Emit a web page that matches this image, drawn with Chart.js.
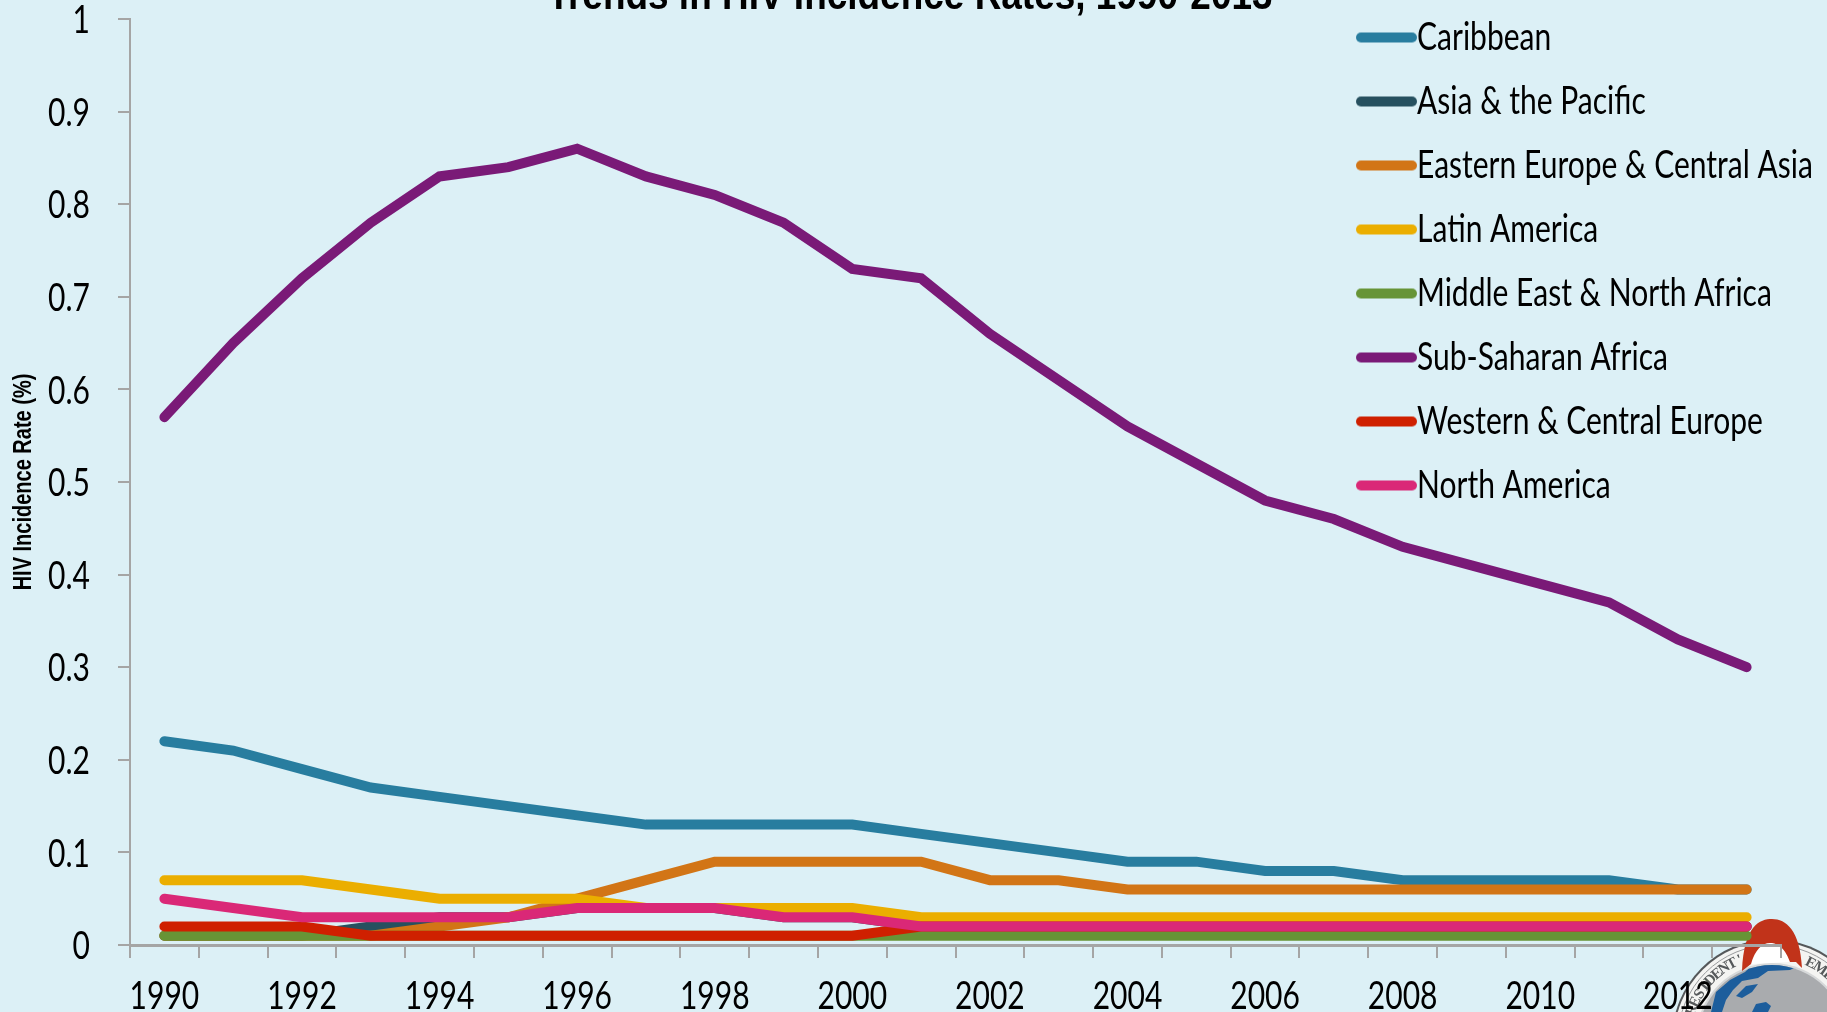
<!DOCTYPE html>
<html><head><meta charset="utf-8">
<style>html,body{margin:0;padding:0;background:#dcf0f6;overflow:hidden}canvas{display:block}</style>
<script src="https://cdn.jsdelivr.net/npm/chart.js@4"></script></head>
<body><canvas id="c" width="1827" height="1012"></canvas>
<script>
const FONT = 'Lato,"Open Sans",sans-serif';
const BOLD = '"Liberation Sans",Arial,sans-serif';
const chartTitle = 'Trends in HIV Incidence Rates, 1990-2013';
const yAxisTitle = 'HIV Incidence Rate (%)';
const years = ['1990','1991','1992','1993','1994','1995','1996','1997','1998','1999','2000','2001','2002','2003','2004','2005','2006','2007','2008','2009','2010','2011','2012','2013'];
const caribbean = [.22,.21,.19,.17,.16,.15,.14,.13,.13,.13,.13,.12,.11,.10,.09,.09,.08,.08,.07,.07,.07,.07,.06,.06];
const asiaPacific = [.01,.01,.01,.02,.03,.03,.04,.04,.04,.03,.03,.02,.02,.02,.02,.02,.02,.02,.02,.02,.02,.02,.02,.02];
const easternEurope = [.01,.01,.01,.01,.02,.03,.05,.07,.09,.09,.09,.09,.07,.07,.06,.06,.06,.06,.06,.06,.06,.06,.06,.06];
const latinAmerica = [.07,.07,.07,.06,.05,.05,.05,.04,.04,.04,.04,.03,.03,.03,.03,.03,.03,.03,.03,.03,.03,.03,.03,.03];
const middleEast = [.01,.01,.01,.01,.01,.01,.01,.01,.01,.01,.01,.01,.01,.01,.01,.01,.01,.01,.01,.01,.01,.01,.01,.01];
const subSaharan = [.57,.65,.72,.78,.83,.84,.86,.83,.81,.78,.73,.72,.66,.61,.56,.52,.48,.46,.43,.41,.39,.37,.33,.30];
const westernEurope = [.02,.02,.02,.01,.01,.01,.01,.01,.01,.01,.01,.02,.02,.02,.02,.02,.02,.02,.02,.02,.02,.02,.02,.02];
const northAmerica = [.05,.04,.03,.03,.03,.03,.04,.04,.04,.03,.03,.02,.02,.02,.02,.02,.02,.02,.02,.02,.02,.02,.02,.02];
const seriesNames = ['Caribbean','Asia & the Pacific','Eastern Europe & Central Asia','Latin America','Middle East & North Africa','Sub-Saharan Africa','Western & Central Europe','North America'];
const seriesValues = [caribbean,asiaPacific,easternEurope,latinAmerica,middleEast,subSaharan,westernEurope,northAmerica];
const seriesColors = ['#287d9f','#26505f','#d27516','#ebae00','#679436','#7a1a77','#cf2000','#da2877'];

const canvas=document.getElementById('c');
const ctx=canvas.getContext('2d');
const rawFill=ctx.fillText.bind(ctx);
// the reference face is condensed and none is installed: squeeze the text about its anchor
ctx.fillText=function(t,x,y){
  const sx=/bold/.test(ctx.font)?(parseFloat(ctx.font.replace(/^\D*/,''))>30?0.88:0.80):0.79;
  ctx.save();ctx.translate(x,y);ctx.scale(sx,1);rawFill(t,0,0);ctx.restore();
};
function marker(col){
  const m=document.createElement('canvas');m.width=61;m.height=14;
  const g=m.getContext('2d');g.strokeStyle=col;g.lineWidth=10;g.lineCap='round';
  g.beginPath();g.moveTo(5,7);g.lineTo(56,7);g.stroke();return m;
}
function seal(g){
  const cx=1772,cy=1039;
  const poly=(pts)=>{g.beginPath();pts.forEach((p,i)=>i?g.lineTo(p[0],p[1]):g.moveTo(p[0],p[1]));g.closePath();g.fill();};
  g.save();
  g.beginPath();g.arc(cx,cy,100,0,Math.PI*2);g.fillStyle='#55585a';g.fill();
  g.beginPath();g.arc(cx,cy,98,0,Math.PI*2);g.fillStyle='#f4f4f2';g.fill();
  g.beginPath();g.arc(cx,cy,94,0,Math.PI*2);g.strokeStyle='#9a9c9e';g.lineWidth=1;g.stroke();
  g.beginPath();g.arc(cx,cy,76,0,Math.PI*2);g.fillStyle='#d6d8d9';g.fill();
  g.beginPath();g.arc(cx,cy,74,0,Math.PI*2);g.fillStyle='#a9abae';g.fill();
  // globe land
  g.save();g.beginPath();g.arc(cx,cy,74,0,Math.PI*2);g.clip();
  g.fillStyle='#1c5d9c';
  poly([[1711,1012],[1716,992],[1730,980],[1745,972],[1752,965],[1800,965],[1790,970],[1768,971],[1758,978],[1742,981],[1733,990],[1726,1000],[1722,1012]]);
  poly([[1736,996],[1746,986],[1758,984],[1752,992],[1742,998]]);
  poly([[1752,1012],[1756,1004],[1766,1002],[1771,1006],[1768,1012]]);
  g.restore();
  // arc lettering
  g.fillStyle='#55585a';g.textAlign='center';g.textBaseline='middle';g.font='bold 15px "Liberation Serif",serif';
  const put=(s,start,step)=>{[...s].forEach((c,i)=>{const a=start+i*step;g.save();g.translate(cx+85*Math.sin(a),cy-85*Math.cos(a));g.rotate(a);rawFill(c,0,0);g.restore();});};
  put("PRESIDENT'S",-1.33,0.105);put('EMERGENCY',0.47,0.13);
  // arch: white inside, red band
  g.fillStyle='#fff';
  g.beginPath();g.moveTo(1751,964);g.bezierCurveTo(1755,950,1762,943,1770,943);g.bezierCurveTo(1775,943,1784,945,1790,962);g.closePath();g.fill();
  g.fillStyle='#c1331a';
  g.beginPath();g.moveTo(1742,971);g.bezierCurveTo(1744,925,1760,919,1772,919);g.bezierCurveTo(1786,919,1800,930,1802,968);g.lineTo(1796,962);g.lineTo(1790,962);g.bezierCurveTo(1784,945,1775,943,1770,943);g.bezierCurveTo(1762,943,1755,950,1751,964);g.closePath();g.fill();
  g.restore();
}
const placeBoxes={id:'placeBoxes',
  afterLayout(ch){
    const l=ch.legend;l.left=1349;l.right=1827;l.top=-7.5;l.bottom=1000;
    const t=ch.titleBlock;t.left=0;t.right=1820;
  },
  beforeDraw(ch){const g=ch.ctx;g.save();g.fillStyle='#dcf0f6';g.fillRect(0,0,ch.width,ch.height);g.restore();seal(g);}
};
const n=seriesNames.length;
new Chart(canvas,{type:'line',
  data:{labels:years,datasets:seriesNames.map((name,i)=>({label:name,data:seriesValues[i],order:n-i,borderColor:seriesColors[i],backgroundColor:seriesColors[i],borderWidth:10,borderCapStyle:'round',borderJoinStyle:'miter',pointRadius:0,tension:0,pointStyle:marker(seriesColors[i])}))},
  plugins:[placeBoxes],
  options:{responsive:false,animation:false,
    layout:{padding:{left:0,right:46,top:19,bottom:0}},
    plugins:{
      title:{display:true,text:chartTitle,color:'#000',font:{family:BOLD,size:42,weight:'bold',lineHeight:1},padding:{top:-43,bottom:1}},
      tooltip:{enabled:false},
      legend:{display:true,position:'chartArea',align:'start',labels:{usePointStyle:true,boxWidth:23,boxHeight:14,color:'#000',font:{family:FONT,size:38},padding:26,sort:(a,b)=>a.datasetIndex-b.datasetIndex}}
    },
    scales:{
      x:{offset:true,afterFit(s){s.height=67;s.paddingLeft=0;s.paddingRight=0;},
        grid:{drawOnChartArea:false,drawTicks:true,tickLength:13,color:'#a5a5a5',lineWidth:2,offset:true},border:{color:'#a5a5a5',width:3},
        ticks:{autoSkip:false,maxRotation:0,minRotation:0,color:'#000',font:{family:FONT,size:38},padding:16,callback(v,i){return i%2?'':years[i];}}},
      y:{min:0,max:1,afterFit(s){s.width=130;s.paddingTop=0;s.paddingBottom=0;},
        grid:{drawOnChartArea:false,tickLength:12,color:'#a5a5a5',lineWidth:2},border:{color:'#a5a5a5',width:2},
        ticks:{stepSize:.1,color:'#000',font:{family:FONT,size:38},padding:28,labelOffset:2,callback(v){return Math.round(v*10)/10;}},
        title:{display:true,text:yAxisTitle,color:'#000',font:{family:BOLD,size:25,weight:'bold',lineHeight:1},padding:{top:12,bottom:0}}}
    }
  }
});
</script></body></html>
